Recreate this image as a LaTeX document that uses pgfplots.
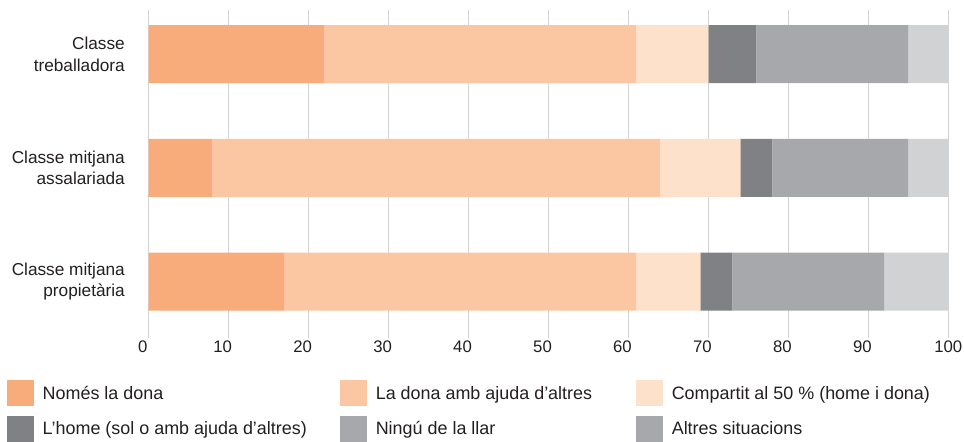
\documentclass[border=0pt]{standalone}
\usepackage{fontspec}
\setmainfont{Liberation Sans}
\usepackage{pgfplots}
\pgfplotsset{compat=1.18}
\definecolor{c1}{HTML}{F9AC7B}
\definecolor{c2}{HTML}{FBC7A2}
\definecolor{c3}{HTML}{FDE1CA}
\definecolor{c4}{HTML}{808184}
\definecolor{c5}{HTML}{A7A8AB}
\definecolor{c6}{HTML}{D1D2D4}
\definecolor{gridc}{HTML}{D4D4D6}
\definecolor{textc}{HTML}{231F20}
\pgfplotsset{swatch/.style={legend image code/.code={\fill[#1] (0bp,-6.6bp) rectangle (26.7bp,19.4bp); \path (35.4bp,0bp);}}}
\begin{document}
\begin{tikzpicture}
\useasboundingbox (-148.7bp,-104bp) rectangle (815.3bp,338bp);
\begin{axis}[at={(0,0)}, anchor=south west, scale only axis,
  width=799.6bp, height=328bp,
  xbar stacked, bar width=58bp,
  xmin=0, xmax=100, ymin=-0.387, ymax=2.495, y dir=reverse,
  ytick={0,1,2},
  yticklabels={{Classe\\treballadora},{Classe mitjana\\assalariada},{Classe mitjana\\propietària}},
  yticklabel style={align=right, anchor=east, inner sep=0pt, xshift=-23.7bp, text=textc,
     font=\fontsize{17.3}{21.7}\selectfont},
  xtick={0,10,...,100},
  xticklabels={0,10,20,30,40,50,60,70,80,90,\hspace*{12bp}100},
  xticklabel style={anchor=north, inner sep=0pt, yshift=-2.5bp, xshift=-6bp, text=textc,
     font=\fontsize{16.8}{20}\selectfont},
  xmajorgrids, grid style={draw=gridc, line width=1.4bp},
  axis line style={draw=none}, major tick length=0pt, tick style={draw=none},
  legend columns=3,
  legend style={at={(-0.17684,-0.12805)}, anchor=north west, draw=none, fill=none,
     inner sep=0pt, outer sep=0pt, column sep=0pt, row sep=9.5bp,
     cells={anchor=base west},
     nodes={inner sep=0pt, outer sep=0pt, text=textc, font=\fontsize{18}{20}\selectfont}},
]
\addplot[fill=c1, draw=none, swatch=c1] coordinates {(22,0) (8,1) (17,2)};
\addlegendentry{\makebox[297.7bp][l]{Només la dona}}
\addplot[fill=c2, draw=none, swatch=c2] coordinates {(39,0) (56,1) (44,2)};
\addlegendentry{\makebox[260.6bp][l]{La dona amb ajuda d’altres}}
\addplot[fill=c3, draw=none, swatch=c3] coordinates {(9,0) (10,1) (8,2)};
\addlegendentry{Compartit al 50 \% (home i dona)}
\addplot[fill=c4, draw=none, swatch=c4] coordinates {(6,0) (4,1) (4,2)};
\addlegendentry{\makebox[297.7bp][l]{L’home (sol o amb ajuda d’altres)}}
\addplot[fill=c5, draw=none, swatch=c5] coordinates {(19,0) (17,1) (19,2)};
\addlegendentry{\makebox[260.6bp][l]{Ningú de la llar}}
\addplot[fill=c6, draw=none, swatch=c5] coordinates {(5,0) (5,1) (8,2)};
\addlegendentry{Altres situacions}
\end{axis}
\end{tikzpicture}
\end{document}
